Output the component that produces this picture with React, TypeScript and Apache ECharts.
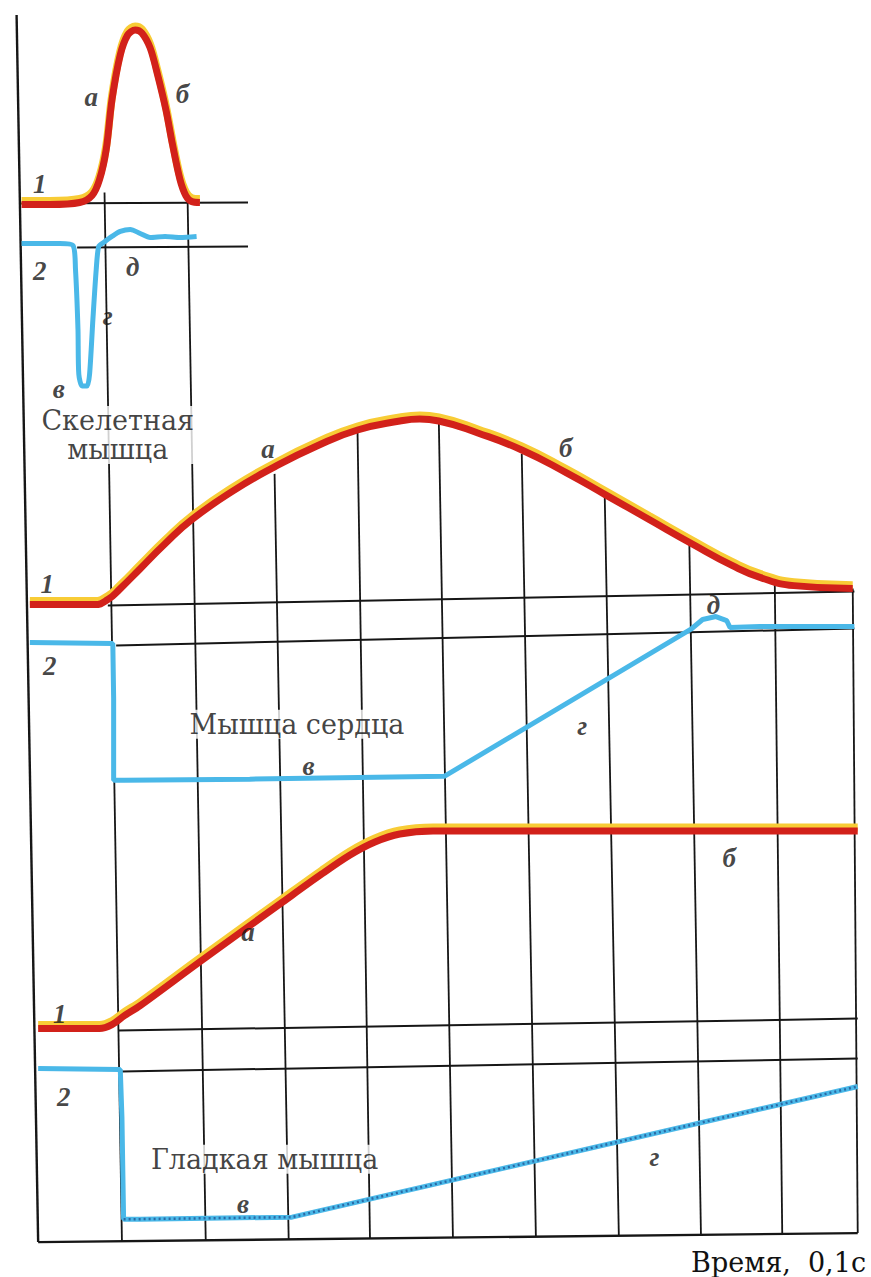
import React, { useEffect, useRef } from "react";
import * as echarts from "echarts";

// x: time in units of 0.1 s; y: trace level (arbitrary units)
type P = [number, number];

// ---- Skeletal muscle ----
const skeletalContraction: P[] = [
  [-0.04, 107.5], [0.3, 107.5], [0.66, 107.7], [0.81, 108.4], [0.9, 110.0], [0.98, 113.0],
  [1.05, 118.0], [1.15, 122.5], [1.24, 124.5], [1.33, 125.0], [1.41, 124.7], [1.51, 123.2],
  [1.6, 120.5], [1.7, 117.0], [1.78, 113.5], [1.87, 110.0], [1.94, 108.4], [2.01, 107.8], [2.11, 107.7],
];
const skeletalPotential: P[] = [
  [-0.04, 103.6], [0.42, 103.6], [0.58, 103.4], [0.61, 101.0], [0.64, 95.0], [0.65, 90.5],
  [0.69, 89.3], [0.75, 89.3], [0.78, 90.5], [0.82, 96.0], [0.86, 101.0], [0.89, 103.3],
  [0.95, 103.7], [1.05, 104.3], [1.15, 104.8], [1.27, 105.0], [1.39, 104.6], [1.51, 104.2],
  [1.69, 104.3], [1.87, 104.2], [2.07, 104.3],
];

// ---- Heart muscle ----
const heartContraction: P[] = [
  [0.06, 67.4], [0.84, 67.4], [1.0, 67.9], [1.15, 69.0], [1.39, 71.0], [1.69, 73.5],
  [2.01, 75.9], [2.51, 78.8], [3.01, 81.2], [3.52, 83.3], [4.01, 84.9], [4.52, 85.8],
  [4.76, 86.0], [4.99, 85.8], [5.46, 84.6], [5.99, 82.9], [6.53, 80.6], [7.0, 78.4],
  [7.53, 75.9], [8.04, 73.5], [8.53, 71.3], [8.87, 70.1], [9.27, 69.3], [9.98, 69.0],
];
const heartPotential: P[] = [
  [0.06, 63.6], [1.06, 63.5], [1.07, 58.0], [1.07, 49.8], [1.2, 49.8], [2.71, 49.9],
  [5.06, 50.2], [8.04, 65.0], [8.17, 65.9], [8.33, 66.2], [8.46, 65.8], [8.5, 65.1],
  [8.86, 65.2], [10.0, 65.2],
];

// ---- Smooth muscle ----
const smoothContraction: P[] = [
  [0.16, 24.9], [0.9, 24.9], [1.05, 25.3], [1.2, 26.2], [1.39, 27.2], [2.11, 31.6],
  [3.11, 37.6], [3.58, 40.4], [3.92, 42.3], [4.22, 43.6], [4.52, 44.4], [4.92, 44.7], [10.04, 44.7],
];
const smoothPotential: P[] = [
  [0.16, 20.9], [1.15, 20.8], [1.17, 16.0], [1.19, 5.8], [1.39, 5.8], [3.22, 6.0], [10.04, 19.1],
];

// ---- Reference (zero) lines: [x1, y1, x2, y2] ----
const baselines: [number, number, number, number][] = [
  [-0.06, 107.6, 2.69, 107.7],
  [0.63, 103.2, 2.69, 103.3],
  [1.0, 67.3, 10.0, 68.7],
  [1.1, 63.3, 10.0, 65.0],
  [1.13, 24.7, 10.04, 25.9],
  [1.17, 20.6, 10.04, 21.9],
];
// Time grid (0.1 s marks): top point and bottom point
const timeMarks: [number, number, number, number][] = [
  [0.96, 108.7, 1.17, 3.6],
  [1.96, 108.7, 2.18, 3.7],
  [3.01, 80.5, 3.18, 3.8],
  [4.01, 84.8, 4.16, 3.9],
  [4.99, 85.8, 5.16, 4.0],
  [5.99, 82.5, 6.16, 4.1],
  [6.99, 78.3, 7.16, 4.2],
  [8.01, 73.5, 8.15, 4.3],
  [9.04, 69.5, 9.13, 4.3],
  [9.98, 69.0, 10.04, 4.4],
];
const axisFrame: [number, number, number, number][] = [
  [-0.1, 126.5, 0.16, 3.5],
  [0.16, 3.5, 10.04, 4.4],
];

// ---- Annotations ----
const letterLabels: [string, number, number][] = [
  ["1", 0.18, 109.6], ["2", 0.18, 100.8], ["а", 0.8, 118.3], ["б", 1.9, 118.6],
  ["д", 1.3, 101.2], ["г", 1.0, 96.3], ["в", 0.41, 89.0],
  ["1", 0.27, 69.5], ["2", 0.3, 61.2], ["а", 2.93, 83.0], ["б", 6.52, 83.1],
  ["д", 8.3, 67.4], ["в", 3.42, 51.2], ["г", 6.72, 55.2],
  ["1", 0.42, 26.4], ["а", 2.69, 34.6], ["б", 8.49, 42.0], ["2", 0.47, 18.0],
  ["в", 2.63, 7.3], ["г", 7.59, 12.0],
];
const titleLabels: [string, number, number][] = [
  ["Скелетная\nмышца", 1.12, 84.4],
  ["Мышца сердца", 3.28, 55.4],
  ["Гладкая мышца", 2.89, 11.8],
];
const axisTitle = "Время,  0,1с";

const RED = "#d2211a";
const YELLOW = "#f8cc36";
const BLUE = "#4ab8e8";
const INK = "#161616";

const shift = (d: P[], dy: number): P[] => d.map(([x, y]) => [x, y + dy]);

const segs = (arr: [number, number, number, number][]) =>
  arr.map(([a, b, c, d]) => ({ coords: [[a, b], [c, d]] }));

function buildOption(): any {
  const redTrace = (name: string, data: P[], smooth: number) => [
    {
      name: name + "-glow", type: "line", data: shift(data, 0.35), smooth, showSymbol: false,
      lineStyle: { color: YELLOW, width: 8 }, z: 4, silent: true,
    },
    {
      name, type: "line", data, smooth, showSymbol: false,
      lineStyle: { color: RED, width: 7 }, z: 5, silent: true,
    },
  ];
  const blueTrace = (name: string, data: P[], smooth: number) => ({
    name, type: "line", data, smooth, showSymbol: false,
    lineStyle: { color: BLUE, width: 5 }, z: 3, silent: true,
  });
  return {
    animation: false,
    backgroundColor: "#ffffff",
    grid: { left: 0, top: 0, width: 871, height: 1280 },
    xAxis: { type: "value", min: -0.3, max: 10.2, show: false },
    yAxis: { type: "value", min: 0, max: 128, show: false },
    series: [
      {
        type: "lines", coordinateSystem: "cartesian2d", data: segs(baselines),
        lineStyle: { color: INK, width: 2, opacity: 1 }, z: 1, silent: true,
      },
      {
        type: "lines", coordinateSystem: "cartesian2d", data: segs(timeMarks),
        lineStyle: { color: INK, width: 1.8, opacity: 1 }, z: 1, silent: true,
      },
      {
        type: "lines", coordinateSystem: "cartesian2d", data: segs(axisFrame),
        lineStyle: { color: INK, width: 2.4, opacity: 1 }, z: 1, silent: true,
      },
      blueTrace("skeletal-potential", skeletalPotential, 0.25),
      blueTrace("heart-potential", heartPotential, 0),
      blueTrace("smooth-potential", smoothPotential, 0),
      {
        name: "smooth-potential-dots", type: "line", data: smoothPotential.slice(3), showSymbol: false,
        lineStyle: { color: "#2a6aa6", width: 2.5, type: [2, 3] }, z: 3, silent: true,
      },
      ...redTrace("skeletal-contraction", skeletalContraction, 0.3),
      ...redTrace("heart-contraction", heartContraction, 0.5),
      ...redTrace("smooth-contraction", smoothContraction, 0.3),
      {
        type: "scatter", data: titleLabels.map(([t, x, y]) => ({ value: [x, y], name: t })),
        symbolSize: 0, z: 8, silent: true,
        label: {
          show: true, position: "inside", formatter: (p: any) => p.name,
          fontFamily: "DejaVu Serif", fontSize: 27, color: "#111", lineHeight: 29,
          backgroundColor: "#ffffff", padding: [0, 3], align: "center", verticalAlign: "middle",
        },
      },
      {
        type: "scatter", data: letterLabels.map(([t, x, y]) => ({ value: [x, y], name: t })),
        symbolSize: 0, z: 8, silent: true,
        label: {
          show: true, position: "inside", formatter: (p: any) => p.name,
          fontFamily: "Liberation Serif", fontStyle: "italic", fontWeight: "bold", fontSize: 27, color: "#161616",
          align: "center", verticalAlign: "middle",
        },
      },
    ],
    graphic: [
      {
        type: "text", right: 5, top: 1249, z: 10,
        style: { text: axisTitle, fontFamily: "DejaVu Serif", fontSize: 27, fill: "#111" },
      },
    ],
  };
}

export default function App() {
  const ref = useRef<HTMLDivElement>(null);
  useEffect(() => {
    if (!ref.current) return;
    const chart = echarts.init(ref.current, undefined, { renderer: "svg" });
    chart.setOption(buildOption());
    return () => chart.dispose();
  }, []);
  return (
    <div
      ref={ref}
      style={{ position: "fixed", left: 0, top: 0, width: 871, height: 1277, background: "#fff" }}
    />
  );
}
